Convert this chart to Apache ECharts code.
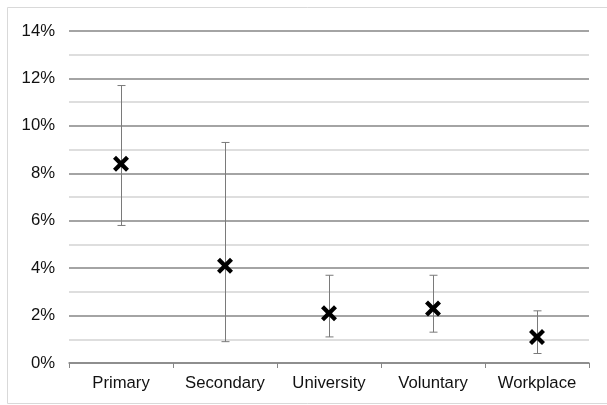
<!DOCTYPE html>
<html>
<head>
<meta charset="utf-8">
<script src="https://cdn.jsdelivr.net/npm/echarts@6/dist/echarts.min.js"></script>
<style>html,body{margin:0;padding:0;background:#fff}#c{width:607px;height:405px}</style>
</head>
<body>
<div id="c"></div>
<script>
const categories = ['Primary', 'Secondary', 'University', 'Voluntary', 'Workplace'];
const pointValues = [8.4, 4.1, 2.1, 2.3, 1.1];
const lowerValues = [5.8, 0.9, 1.1, 1.3, 0.4];
const upperValues = [11.7, 9.3, 3.7, 3.7, 2.2];
const yTicks = [0, 2, 4, 6, 8, 10, 12, 14];

const chart = echarts.init(document.getElementById('c'), null, {renderer: 'canvas'});
const font = 'Liberation Sans, Arial, sans-serif';
const xPath = 'path://M3,0 L8,5 L13,0 L16,3 L11,8 L16,13 L13,16 L8,11 L3,16 L0,13 L5,8 L0,3 Z';

chart.setOption({
  animation: false,
  backgroundColor: '#fff',
  graphic: [{
    type: 'rect', shape: {x: 7.5, y: 7.5, width: 620, height: 396},
    style: {fill: 'none', stroke: '#d9d9d9', lineWidth: 1}, silent: true, z: -1
  }],
  grid: {left: 69, right: 18, top: 31, bottom: 42},
  xAxis: {
    type: 'category', data: categories, boundaryGap: true,
    axisLine: {lineStyle: {color: '#868686', width: 1.5}},
    axisTick: {show: true, length: 5, lineStyle: {color: '#868686'}},
    axisLabel: {fontSize: 16.7, color: '#111', fontFamily: font, margin: 12},
    splitLine: {show: false}
  },
  yAxis: {
    type: 'value', min: yTicks[0], max: yTicks[yTicks.length - 1], interval: 2,
    axisLine: {show: false}, axisTick: {show: false},
    axisLabel: {fontSize: 16.7, color: '#111', fontFamily: font, margin: 14, formatter: '{value}%'},
    splitLine: {lineStyle: {color: '#868686', width: 1.5}},
    minorTick: {show: false, splitNumber: 2},
    minorSplitLine: {show: true, lineStyle: {color: '#d4d4d4', width: 1.5}}
  },
  series: [
    {
      type: 'custom',
      data: categories.map((c, i) => [i, lowerValues[i], upperValues[i]]),
      renderItem: function (params, api) {
        const lo = api.coord([api.value(0), api.value(1)]);
        const hi = api.coord([api.value(0), api.value(2)]);
        const x = Math.round(lo[0]) + 0.5;
        const w = 4;
        const st = {stroke: '#7a7a7a', lineWidth: 1};
        return {
          type: 'group',
          children: [
            {type: 'line', shape: {x1: x, y1: hi[1], x2: x, y2: lo[1]}, style: st},
            {type: 'line', shape: {x1: x - w, y1: hi[1], x2: x + w, y2: hi[1]}, style: st},
            {type: 'line', shape: {x1: x - w, y1: lo[1], x2: x + w, y2: lo[1]}, style: st}
          ]
        };
      },
      z: 2
    },
    {
      type: 'scatter',
      data: pointValues,
      symbol: xPath, symbolSize: 16,
      itemStyle: {color: '#000', opacity: 1},
      z: 3
    }
  ]
});
</script>
</body>
</html>
